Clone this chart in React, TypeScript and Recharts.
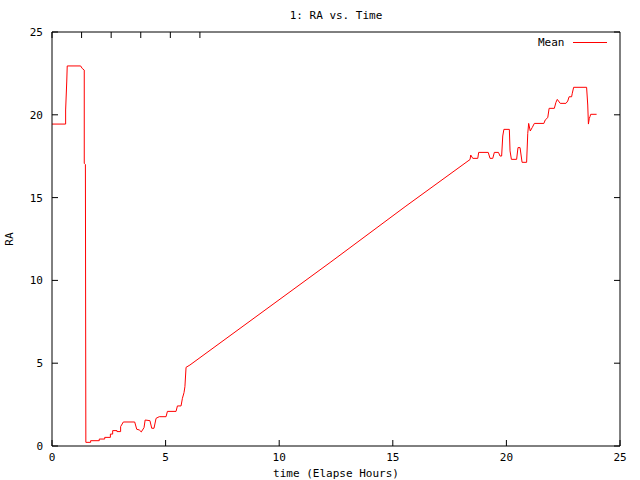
import React from 'react';
import { LineChart, Line, XAxis, YAxis, Legend, Label } from 'recharts';

// elapsed time (hours) and mean RA
const hours = [
  0, 0.6, 0.6, 0.65, 0.67, 1.26, 1.33, 1.42, 1.42, 1.47, 1.49,
  1.7, 1.7, 2.08, 2.08, 2.32, 2.32, 2.57, 2.57, 2.67, 2.67, 2.86, 2.86, 3.02, 3.02, 3.14,
  3.64, 3.73, 3.84, 3.93, 4.05, 4.1, 4.31, 4.39, 4.49, 4.58, 4.72, 5.02, 5.08, 5.46, 5.52,
  5.68, 5.74, 5.81, 5.85, 5.9, 6.07, 12.24, 15.54, 18.4, 18.43, 18.52,
  18.74, 18.78, 19.2, 19.28, 19.4, 19.47, 19.65, 19.72, 19.79, 19.84, 19.89, 20.13, 20.16,
  20.22, 20.45, 20.51, 20.6, 20.69, 20.89, 20.94, 20.98, 21.05, 21.14, 21.23, 21.65, 21.71,
  21.82, 21.88, 22.11, 22.18, 22.24, 22.37, 22.62, 22.7, 22.76, 22.87, 22.9, 22.96, 23.53,
  23.58, 23.61, 23.65, 23.68, 23.71, 23.97,
];
const raMean = [
  19.44, 19.44, 20.29, 22.04, 22.95, 22.95, 22.8, 22.7, 17.07, 17.0, 0.22,
  0.22, 0.32, 0.32, 0.42, 0.42, 0.52, 0.52, 0.72, 0.72, 0.93, 0.93, 0.87, 0.87, 1.17, 1.45,
  1.45, 1.01, 0.97, 0.85, 1.11, 1.57, 1.53, 1.07, 1.07, 1.67, 1.77, 1.77, 2.09, 2.09, 2.42,
  2.42, 2.88, 3.22, 3.58, 4.75, 4.89, 11.08, 14.45, 17.3, 17.57, 17.37,
  17.37, 17.73, 17.73, 17.37, 17.37, 17.73, 17.73, 17.51, 17.51, 18.72, 19.12, 19.12, 17.82,
  17.31, 17.31, 18.02, 18.02, 17.13, 17.13, 18.88, 19.48, 19.02, 19.24, 19.48, 19.48, 19.69,
  19.83, 20.39, 20.39, 20.75, 20.93, 20.69, 20.69, 20.83, 21.09, 21.09, 21.3, 21.66, 21.66,
  20.59, 19.44, 19.79, 19.89, 20.03, 20.03,
];
const axisTicks = [0, 5, 10, 15, 20, 25];

const data = hours.map((h, i) => ({ hours: h, ra: raMean[i] }));

const font = { fontFamily: '"DejaVu Sans Mono", monospace', fontSize: 11, fill: '#000' };

const LegendBox = ({ payload }: any) => (
  <div style={{ display: 'flex', alignItems: 'center', fontFamily: font.fontFamily, fontSize: 11 }}>
    {(payload || []).map((p: any) => (
      <React.Fragment key={p.value}>
        <span style={{ color: '#000', marginRight: 8 }}>{p.value}</span>
        <span style={{ display: 'inline-block', width: 34, height: 0, borderTop: `1px solid ${p.color}` }} />
      </React.Fragment>
    ))}
  </div>
);

export default function App() {
  return (
    <div style={{ position: 'absolute', left: 0, top: 0, width: 640, height: 480, background: '#fff' }}>
      <LineChart width={640} height={480} data={data} margin={{ top: 31, right: 19, bottom: 0, left: 0 }}>
        <XAxis
          type="number"
          dataKey="hours"
          domain={[0, 25]}
          ticks={axisTicks}
          height={34}
          tickSize={-6}
          tickMargin={13}
          tick={font}
          stroke="#000"
        >
          <Label value="time (Elapse Hours)" position="insideBottom" offset={3} style={font} />
        </XAxis>
        <XAxis
          xAxisId="top"
          orientation="top"
          type="number"
          domain={[0, 25]}
          ticks={axisTicks}
          height={1}
          tickSize={-6}
          tick={() => null}
          stroke="#000"
          allowDataOverflow
        >
          <Label value="1: RA vs. Time" position="top" offset={12} style={font} />
        </XAxis>
        <YAxis
          type="number"
          domain={[0, 25]}
          ticks={axisTicks}
          width={52}
          tickSize={-6}
          tickMargin={15}
          tick={font}
          stroke="#000"
        >
          <Label value="RA" angle={-90} position="insideLeft" offset={9} style={{ ...font, textAnchor: 'middle' }} />
        </YAxis>
        <YAxis
          yAxisId="right"
          orientation="right"
          type="number"
          domain={[0, 25]}
          ticks={axisTicks}
          width={1}
          tickSize={-6}
          tick={() => null}
          stroke="#000"
          allowDataOverflow
        />
        <Legend
          layout="vertical"
          align="center"
          verticalAlign="middle"
          content={<LegendBox />}
          wrapperStyle={{ top: 36, left: 538, width: 80 }}
        />
        <Line
          type="linear"
          dataKey="ra"
          name="Mean"
          stroke="#ff0000"
          strokeWidth={1}
          dot={false}
          isAnimationActive={false}
        />
      </LineChart>
    </div>
  );
}
